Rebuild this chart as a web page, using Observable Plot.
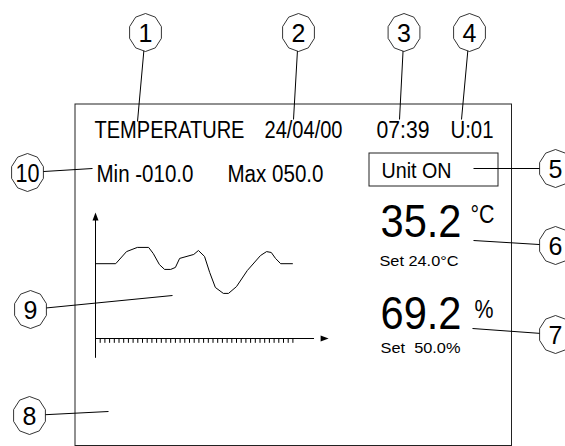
<!DOCTYPE html>
<html><head><meta charset="utf-8">
<script src="https://cdn.jsdelivr.net/npm/d3@7"></script>
<script src="https://cdn.jsdelivr.net/npm/@observablehq/plot@0.6"></script>
<style>
html,body{margin:0;padding:0;background:#fff;}
#wrap{position:relative;width:565px;height:446px;overflow:hidden;}
#wrap svg{position:absolute;left:0;top:0;}
</style></head><body><div id="wrap"></div>
<script>
// ---------------- data ----------------
const calloutNumbers = ["1","2","3","4","5","6","7","8","9","10"];
const headerLabels   = ["TEMPERATURE","24/04/00","07:39","U:01"];
const rangeLabels    = ["Min -010.0","Max 050.0"];
const statusLabels   = ["Unit ON"];
const readingValues  = ["35.2","69.2"];
const readingUnits   = ["°C","%"];
const setpointLabels = ["Set 24.0°C","Set  50.0%"];
// trend curve: time (sample index) and temperature (°C)
const trendTime = [0, 4.3, 6.6, 8.9, 11.3, 12.3, 13.6, 14.7, 16, 17, 17.9, 20.9, 21.9, 23.2, 24.3, 25.5, 27.2, 28.3, 30, 32.3, 35.1, 36.4, 37.4, 38.3, 39.4, 41.9];
const trendTemp = [24, 24, 29.5, 31.4, 31.4, 28.6, 23.6, 21.4, 21.4, 22.3, 26.4, 28.2, 30, 27.3, 20, 13.2, 10.5, 10.5, 13.6, 20.9, 27.7, 29.5, 29.1, 26.4, 24, 24];
const timeTicks = d3.range(1, 43);
const trendDomainX = [0, 50];
const trendDomainY = [-10, 50];

// ---------------- layout (pixels / styles) ----------------
const FONT = "'Liberation Sans', Arial, Helvetica, sans-serif";
const layout = {
  screen: {x1: 75, y1: 104, x2: 511.5, y2: 445.5},
  statusBox: {x1: 369, y1: 153, x2: 498, y2: 186},
  callouts: [[145,32],[298,32],[403.5,32],[469,32],[555,168],[555,245],[555,334],[29,415],[30,309],[27,172]],
  calloutWidths: [null,null,null,null,null,null,null,null,null,24],
  leaderEnds: [[137,121],[293,119],[399,119],[461,119],[473,168],[473,240],[472,328],[108,411],[172,295],[92,168]],
  header:    {pos: [[94,137.5],[264,137.5],[376,137.5],[450,137.5]], widths: [150,78,53,43], size: 23},
  range:     {pos: [[96,181],[227,181]], widths: [97,96], size: 23},
  status:    {pos: [[381,177]], widths: [70], size: 22},
  readings:  {pos: [[380,236.5],[380,328]], widths: [81,81], size: 46},
  units:     {pos: [[470,222],[474,317]], widths: [24,19], size: 26},
  setpoints: {pos: [[379,265],[380,352]], widths: [79,80], size: 15.5},
  trend: {left: 80, top: 200, width: 260, height: 170, xRange: [15, 250], yRange: [138, 6],
          axisX: [0, 49.6], axisY: [-19, 47.3], tickLen: 2.2}
};

const rows = (labels, spec) => labels.map((text, i) => ({text, x: spec.pos[i][0], y: spec.pos[i][1], w: spec.widths[i]}));
const groups = {
  header: rows(headerLabels, layout.header),
  range: rows(rangeLabels, layout.range),
  status: rows(statusLabels, layout.status),
  readings: rows(readingValues, layout.readings),
  units: rows(readingUnits, layout.units),
  setpoints: rows(setpointLabels, layout.setpoints)
};
const callouts = calloutNumbers.map((n, i) => ({
  n, x: layout.callouts[i][0], y: layout.callouts[i][1],
  ex: layout.leaderEnds[i][0], ey: layout.leaderEnds[i][1], w: layout.calloutWidths[i]
}));

const calloutShape = {
  draw(context, size) {
    const r = Math.sqrt(size / Math.PI), rx = r * 0.88, ry = r;
    for (let i = 0; i < 10; i++) {
      const a = -Math.PI / 2 + i * Math.PI / 5;
      const px = rx * Math.cos(a), py = ry * Math.sin(a);
      i ? context.lineTo(px, py) : context.moveTo(px, py);
    }
    context.closePath();
  }
};
const arrowUp = {draw(c) { c.moveTo(0, 0); c.lineTo(-3, 8); c.lineTo(3, 8); c.closePath(); }};
const arrowRight = {draw(c) { c.moveTo(0, 0); c.lineTo(-8, -3); c.lineTo(-8, 3); c.closePath(); }};

const textMark = (name) => Plot.text(groups[name], {
  x: "x", y: "y", text: "text", textAnchor: "start", lineAnchor: "bottom",
  fontSize: layout[name].size, fontFamily: FONT, fill: "black"
});

const main = Plot.plot({
  width: 565, height: 446, margin: 0,
  x: {domain: [0, 565], range: [0, 565], axis: null},
  y: {domain: [0, 446], range: [0, 446], axis: null},
  style: {background: "white"},
  marks: [
    Plot.rect([layout.screen], {x1: "x1", x2: "x2", y1: "y1", y2: "y2", fill: "none", stroke: "#222", strokeWidth: 1}),
    Plot.rect([layout.statusBox], {x1: "x1", x2: "x2", y1: "y1", y2: "y2", fill: "none", stroke: "#222", strokeWidth: 1}),
    Plot.link(callouts, {x1: "x", y1: "y", x2: "ex", y2: "ey", stroke: "black", strokeWidth: 1}),
    Plot.dot(callouts, {x: "x", y: "y", r: 19, symbol: calloutShape, fill: "white", stroke: "black", strokeWidth: 0.8}),
    Plot.text(callouts, {x: "x", y: "y", text: "n", fontSize: 25, fontFamily: FONT, fill: "black", dy: 1}),
    ...Object.keys(groups).map(textMark)
  ]
});

const T = layout.trend;
const trendRows = trendTime.map((t, i) => ({t, v: trendTemp[i]}));
const trend = Plot.plot({
  width: T.width, height: T.height, margin: 0,
  x: {domain: trendDomainX, range: T.xRange, axis: null},
  y: {domain: trendDomainY, range: T.yRange, axis: null},
  style: {background: "transparent", overflow: "visible"},
  marks: [
    Plot.ruleY([trendDomainY[0]], {x1: T.axisX[0], x2: T.axisX[1] - 3, stroke: "black", strokeWidth: 1}),
    Plot.ruleX([trendDomainX[0]], {y1: T.axisY[0], y2: T.axisY[1] - 2, stroke: "black", strokeWidth: 1}),
    Plot.ruleX(timeTicks, {x: d => d, y1: trendDomainY[0], y2: trendDomainY[0] - T.tickLen, stroke: "black", strokeWidth: 1}),
    Plot.line(trendRows, {x: "t", y: "v", stroke: "black", strokeWidth: 1}),
    Plot.dot([{x: trendDomainX[0], y: T.axisY[1]}], {x: "x", y: "y", symbol: arrowUp, fill: "black", stroke: "none"}),
    Plot.dot([{x: T.axisX[1], y: trendDomainY[0]}], {x: "x", y: "y", symbol: arrowRight, fill: "black", stroke: "none"})
  ]
});
trend.style.left = T.left + "px";
trend.style.top = T.top + "px";

// condensed lettering as in the original display artwork
const widthByText = new Map();
for (const g of Object.values(groups)) for (const r of g) widthByText.set(r.text, r.w);
for (const c of callouts) if (c.w) widthByText.set(c.n, c.w);
main.querySelectorAll("text").forEach(el => {
  const w = widthByText.get(el.textContent);
  if (w) {
    el.setAttribute("textLength", w);
    el.setAttribute("lengthAdjust", "spacingAndGlyphs");
  }
});

const wrap = document.getElementById("wrap");
wrap.appendChild(main);
wrap.appendChild(trend);
</script></body></html>
